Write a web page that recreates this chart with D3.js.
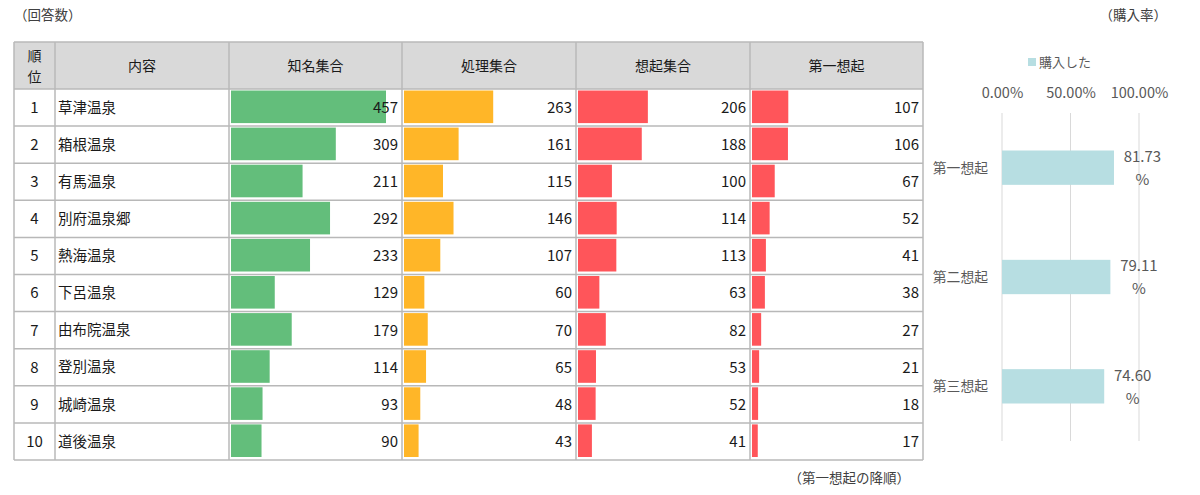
<!DOCTYPE html>
<html lang="ja">
<head>
<meta charset="UTF-8">
<title>温泉地 想起集合と購入率</title>
<script src="https://d3js.org/d3.v7.min.js"></script>
<style>
    body { margin: 0; background: #fff; font-family: "Noto Sans CJK JP", "Noto Sans", sans-serif; }
    svg text { font-family: "Noto Sans CJK JP", "Noto Sans", sans-serif; }
</style>
</head>
<body>
<div id="chart"></div>
<script>
// table data
const ranks = [1, 2, 3, 4, 5, 6, 7, 8, 9, 10];
const spots = ["草津温泉", "箱根温泉", "有馬温泉", "別府温泉郷", "熱海温泉", "下呂温泉", "由布院温泉", "登別温泉", "城崎温泉", "道後温泉"];
const headers = ["順位", "内容", "知名集合", "処理集合", "想起集合", "第一想起"];
const known    = [457, 309, 211, 292, 233, 129, 179, 114, 93, 90];
const handled  = [263, 161, 115, 146, 107, 60, 70, 65, 48, 43];
const recalled = [206, 188, 100, 114, 113, 63, 82, 53, 52, 41];
const first    = [107, 106, 67, 52, 41, 38, 27, 21, 18, 17];

// purchase-rate chart data
const recallCats = ["第一想起", "第二想起", "第三想起"];
const buyRate = [0.8173, 0.7911, 0.7460];
const rateTicks = [0, 0.5, 1];

const W = 1200, H = 495;
const svg = d3.select("#chart").append("svg").attr("width", W).attr("height", H);

const ink = "#1a1a1a", gray = "#595959", border = "#b8b8b8";

// ---------- table ----------
const colEdges = [14, 55, 229, 402, 576, 750, 923];
const headTop = 42, headBottom = 89, tableBottom = 460;

const y = d3.scaleBand().domain(ranks).range([headBottom, tableBottom]);
const barX = d3.scaleLinear().domain([0, d3.max(known)]).range([0, 155]);

const seriesCols = [
    { vals: known, color: "#63BE7B" },
    { vals: handled, color: "#FFB628" },
    { vals: recalled, color: "#FF555A" },
    { vals: first, color: "#FF555A" }
];

const table = svg.append("g");

table.append("rect")
    .attr("x", colEdges[0]).attr("y", headTop)
    .attr("width", colEdges[6] - colEdges[0]).attr("height", headBottom - headTop)
    .attr("fill", "#d9d9d9");

// bars
seriesCols.forEach((s, i) => {
    const x0 = colEdges[i + 2];
    table.append("g").selectAll("rect")
        .data(ranks)
        .join("rect")
        .attr("x", x0 + 2)
        .attr("y", d => y(d) + 1.5)
        .attr("width", (d, j) => barX(s.vals[j]))
        .attr("height", y.bandwidth() - 4.5)
        .attr("fill", s.color);
    table.append("g").selectAll("text")
        .data(ranks)
        .join("text")
        .attr("x", colEdges[i + 3] - 4)
        .attr("y", d => y(d) + y.bandwidth() / 2)
        .attr("dy", "0.36em")
        .attr("text-anchor", "end")
        .attr("font-size", 15)
        .attr("fill", ink)
        .text((d, j) => s.vals[j]);
});

// rank + name
table.append("g").selectAll("text")
    .data(ranks)
    .join("text")
    .attr("x", (colEdges[0] + colEdges[1]) / 2)
    .attr("y", d => y(d) + y.bandwidth() / 2)
    .attr("dy", "0.36em")
    .attr("text-anchor", "middle")
    .attr("font-size", 15)
    .attr("fill", ink)
    .text(d => d);

table.append("g").selectAll("text")
    .data(ranks)
    .join("text")
    .attr("x", colEdges[1] + 3)
    .attr("y", d => y(d) + y.bandwidth() / 2)
    .attr("dy", "0.36em")
    .attr("font-size", 14.5)
    .attr("fill", ink)
    .text((d, j) => spots[j]);

// headers
headers.forEach((h, i) => {
    const cx = (colEdges[i] + colEdges[i + 1]) / 2;
    const cy = (headTop + headBottom) / 2;
    if (i === 0) {
        table.append("text").attr("x", cx).attr("y", cy - 10).attr("dy", "0.36em")
            .attr("text-anchor", "middle").attr("font-size", 14).attr("fill", ink).text(h[0]);
        table.append("text").attr("x", cx).attr("y", cy + 11).attr("dy", "0.36em")
            .attr("text-anchor", "middle").attr("font-size", 14).attr("fill", ink).text(h[1]);
    } else {
        table.append("text").attr("x", cx).attr("y", cy).attr("dy", "0.36em")
            .attr("text-anchor", "middle").attr("font-size", 14).attr("fill", ink).text(h);
    }
});

// grid lines
const hLines = [headTop, ...ranks.map(d => y(d)), tableBottom];
table.append("g").selectAll("line")
    .data(hLines)
    .join("line")
    .attr("x1", colEdges[0]).attr("x2", colEdges[6])
    .attr("y1", d => d).attr("y2", d => d)
    .attr("stroke", border).attr("stroke-width", 1.5);
table.append("g").selectAll("line")
    .data(colEdges)
    .join("line")
    .attr("x1", d => d).attr("x2", d => d)
    .attr("y1", headTop).attr("y2", tableBottom)
    .attr("stroke", border).attr("stroke-width", 1.5);

// notes
svg.append("text").attr("x", 14).attr("y", 15).attr("dy", "0.36em")
    .attr("font-size", 13.5).attr("fill", "#404040").text("（回答数）");
svg.append("text").attr("x", 1167).attr("y", 15).attr("dy", "0.36em")
    .attr("text-anchor", "end").attr("font-size", 13.5).attr("fill", "#404040").text("（購入率）");
svg.append("text").attr("x", 910).attr("y", 478).attr("dy", "0.36em")
    .attr("text-anchor", "end").attr("font-size", 13.5).attr("fill", "#404040").text("（第一想起の降順）");

// ---------- purchase-rate bar chart ----------
const rx = d3.scaleLinear().domain([0, 1]).range([1002, 1139]);
const ry = d3.scaleBand().domain(recallCats).range([113, 441]).paddingInner(0.686).paddingOuter(0.343);

const right = svg.append("g");

right.append("g").selectAll("line")
    .data(rateTicks)
    .join("line")
    .attr("x1", d => rx(d)).attr("x2", d => rx(d))
    .attr("y1", 113).attr("y2", 441)
    .attr("stroke", "#d9d9d9").attr("stroke-width", 1);

const axis = right.append("g")
    .attr("transform", "translate(0,101)")
    .call(d3.axisTop(rx).tickValues(rateTicks).tickFormat(d3.format(".2%")).tickSize(0));
axis.select(".domain").remove();
axis.selectAll("text")
    .attr("font-size", 14.5)
    .attr("fill", gray)
    .attr("font-family", "'Noto Sans CJK JP', 'Noto Sans', sans-serif");

right.append("g").selectAll("rect")
    .data(recallCats)
    .join("rect")
    .attr("x", rx(0))
    .attr("y", d => ry(d))
    .attr("width", (d, i) => rx(buyRate[i]) - rx(0))
    .attr("height", ry.bandwidth())
    .attr("fill", "#B7DEE2");

right.append("g").selectAll("text")
    .data(recallCats)
    .join("text")
    .attr("x", 988)
    .attr("y", d => ry(d) + ry.bandwidth() / 2)
    .attr("dy", "0.36em")
    .attr("text-anchor", "end")
    .attr("font-size", 13.8)
    .attr("fill", gray)
    .text(d => d);

const vlab = right.append("g").selectAll("text")
    .data(recallCats)
    .join("text")
    .attr("text-anchor", "middle")
    .attr("font-size", 15)
    .attr("fill", gray);
vlab.append("tspan")
    .attr("x", (d, i) => rx(buyRate[i]) + 28.5)
    .attr("y", d => ry(d) + ry.bandwidth() / 2 - 11)
    .attr("dy", "0.36em")
    .text((d, i) => (buyRate[i] * 100).toFixed(2));
vlab.append("tspan")
    .attr("x", (d, i) => rx(buyRate[i]) + 28.5)
    .attr("y", d => ry(d) + ry.bandwidth() / 2 + 12)
    .attr("dy", "0.36em")
    .text("%");

// legend
right.append("rect").attr("x", 1028).attr("y", 58).attr("width", 8).attr("height", 8).attr("fill", "#B7DEE2");
right.append("text").attr("x", 1039).attr("y", 62).attr("dy", "0.36em")
    .attr("font-size", 13).attr("fill", gray).text("購入した");
</script>
</body>
</html>
